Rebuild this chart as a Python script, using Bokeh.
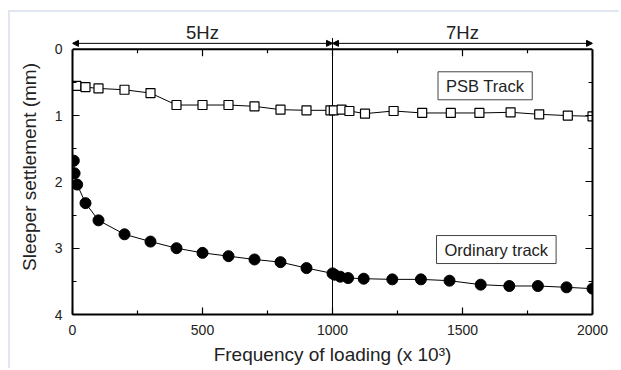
from bokeh.plotting import figure
from bokeh.models import (Range1d, LinearAxis, FixedTicker, Arrow, NormalHead, Label, Span)
from bokeh.embed import file_html
from bokeh.resources import INLINE

# ---- data ----
psb_x = [15, 50, 100, 200, 300, 400, 500, 600, 700, 800, 900, 992, 1005, 1035, 1065,
         1125, 1235, 1345, 1455, 1565, 1685, 1795, 1905, 2000]
psb_y = [0.55, 0.57, 0.59, 0.61, 0.66, 0.84, 0.84, 0.84, 0.86, 0.91, 0.92, 0.92, 0.92,
         0.91, 0.93, 0.97, 0.93, 0.96, 0.96, 0.96, 0.95, 0.98, 1.00, 1.01]
ord_x = [5, 8, 18, 50, 100, 200, 300, 400, 500, 600, 700, 800, 900, 1000, 1008, 1030,
         1060, 1120, 1230, 1340, 1450, 1570, 1680, 1790, 1900, 2000]
ord_y = [1.68, 1.87, 2.04, 2.32, 2.58, 2.79, 2.90, 3.00, 3.07, 3.12, 3.17, 3.21, 3.30,
         3.38, 3.40, 3.43, 3.45, 3.46, 3.47, 3.47, 3.49, 3.55, 3.57, 3.57, 3.59, 3.61]
x_ticks = [0, 500, 1000, 1500, 2000]
x_minor = [250, 750, 1250, 1750]
y_ticks = [0, 1, 2, 3, 4]
y_minor = [0.5, 1.5, 2.5, 3.5]
phases = [(0, 1000, "5Hz"), (1000, 2000, "7Hz")]
boxes = [(1587, 0.55, "PSB Track"), (1630, 3.02, "Ordinary track")]
switch_x = 1000

FONT = "Liberation Sans"
TXT = "#222222"

p = figure(width=611, height=358, output_backend="svg", toolbar_location=None,
           x_range=Range1d(0, 2000), y_range=Range1d(4, -0.45),
           min_border_left=62, min_border_right=29, min_border_top=7, min_border_bottom=56,
           x_axis_location=None, y_axis_location=None)
p.styles = {"margin-left": "8px", "margin-top": "10px",
            "border-left": "2px solid #e1e6f2", "border-top": "2px solid #e1e6f2"}
p.grid.visible = False
p.outline_line_color = None
p.background_fill_color = "white"
p.border_fill_color = "white"


def make_axis(ticks, minor, loc, label_text=None, show_labels=True):
    ax = LinearAxis(ticker=FixedTicker(ticks=ticks, minor_ticks=minor))
    ax.bounds = (ticks[0], ticks[-1])
    ax.axis_line_width = 2
    ax.axis_line_color = "black"
    ax.major_tick_in = 7
    ax.major_tick_out = 0
    ax.minor_tick_in = 4
    ax.minor_tick_out = 0
    ax.major_tick_line_color = "black"
    ax.minor_tick_line_color = "black"
    ax.major_tick_line_width = 1.2
    ax.minor_tick_line_width = 1.2
    ax.major_label_text_font = FONT
    ax.major_label_text_font_size = "14px"
    ax.major_label_text_color = TXT
    ax.major_label_standoff = 10
    if not show_labels:
        ax.major_label_text_color = None
        ax.major_label_standoff = 0
    if label_text:
        ax.axis_label = label_text
        ax.axis_label_text_font = FONT
        ax.axis_label_text_font_size = "19px"
        ax.axis_label_text_font_style = "normal"
        ax.axis_label_text_color = TXT
        ax.axis_label_standoff = 6
    p.add_layout(ax, loc)
    return ax


make_axis(x_ticks, x_minor, "below", "Frequency of loading (x 10³)")
ly = make_axis(y_ticks, y_minor, "left", "Sleeper settlement (mm)")
ly.axis_label_standoff = 12
make_axis(y_ticks, y_minor, "right", show_labels=False)

# top frame edge (at y = 0) with inward ticks
p.add_layout(Span(location=y_ticks[0], dimension="width", line_color="black", line_width=2))
p.segment(x0=x_ticks, y0=[y_ticks[0]] * len(x_ticks), x1=x_ticks,
          y1=[y_ticks[0] + 0.105] * len(x_ticks), line_color="black", line_width=1.2)
p.segment(x0=x_minor, y0=[y_ticks[0]] * len(x_minor), x1=x_minor,
          y1=[y_ticks[0] + 0.06] * len(x_minor), line_color="black", line_width=1.2)

# vertical divider between loading frequencies
p.segment(x0=[switch_x], y0=[-0.17], x1=[switch_x], y1=[y_ticks[-1]],
          line_color="black", line_width=1)

# series
p.line(psb_x, psb_y, line_color="black", line_width=1)
p.scatter(psb_x, psb_y, marker="square", size=9, fill_color="white",
          line_color="black", line_width=1.2)
p.line(ord_x, ord_y, line_color="black", line_width=1)
p.scatter(ord_x, ord_y, marker="circle", size=11, fill_color="black",
          line_color="black")

# frequency phase arrows and labels
for x0, x1, txt in phases:
    p.add_layout(Arrow(x_start=x0, y_start=-0.09, x_end=x1, y_end=-0.09,
                       line_color="black", line_width=1,
                       start=NormalHead(size=6, fill_color="black", line_color="black"),
                       end=NormalHead(size=6, fill_color="black", line_color="black")))
    p.add_layout(Label(x=(x0 + x1) / 2, y=-0.25, text=txt, text_align="center",
                       text_baseline="middle", text_font=FONT, text_font_size="18.5px",
                       text_color=TXT))

# boxed labels
for bx, by, txt in boxes:
    p.add_layout(Label(x=bx, y=by, text=txt, text_align="center", text_baseline="middle",
                       text_font=FONT, text_font_size="16.5px", text_color=TXT,
                       border_line_color="#444444", border_line_width=1,
                       background_fill_color="white",
                       padding=dict(left=8, right=8, top=5, bottom=5)))

open("out.html", "w").write(file_html(p, INLINE))
